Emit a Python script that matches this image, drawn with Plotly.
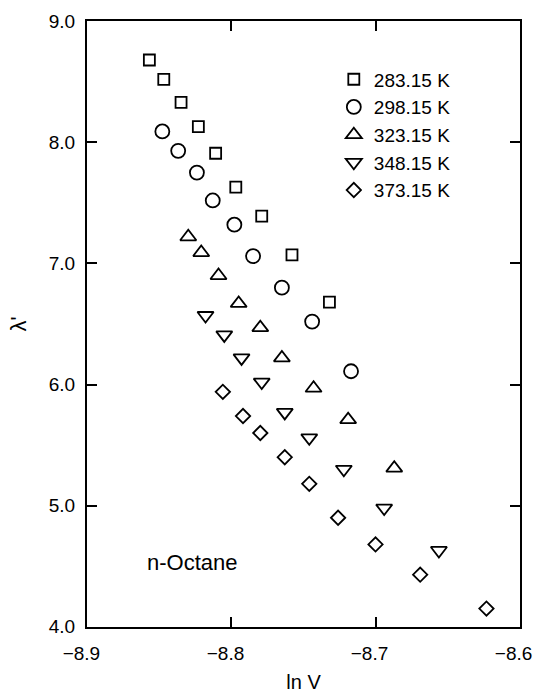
import plotly.graph_objects as go

# ---- data ----
series_names = ["283.15 K", "298.15 K", "323.15 K", "348.15 K", "373.15 K"]

lnV_283 = [-8.857, -8.847, -8.835, -8.823, -8.811, -8.797, -8.779, -8.758, -8.732]
lam_283 = [8.68, 8.52, 8.33, 8.13, 7.91, 7.63, 7.39, 7.07, 6.68]

lnV_298 = [-8.848, -8.837, -8.824, -8.813, -8.798, -8.785, -8.765, -8.744, -8.717]
lam_298 = [8.09, 7.93, 7.75, 7.52, 7.32, 7.06, 6.80, 6.52, 6.11]

lnV_323 = [-8.830, -8.821, -8.809, -8.795, -8.780, -8.765, -8.743, -8.719, -8.687]
lam_323 = [7.22, 7.09, 6.90, 6.67, 6.47, 6.22, 5.97, 5.71, 5.31]

lnV_348 = [-8.818, -8.805, -8.793, -8.779, -8.763, -8.746, -8.722, -8.694, -8.656]
lam_348 = [6.57, 6.41, 6.22, 6.02, 5.77, 5.56, 5.30, 4.98, 4.63]

lnV_373 = [-8.806, -8.792, -8.780, -8.763, -8.746, -8.726, -8.700, -8.669, -8.623]
lam_373 = [5.94, 5.74, 5.60, 5.40, 5.18, 4.90, 4.68, 4.43, 4.15]

x_ticks = [-8.9, -8.8, -8.7, -8.6]
y_ticks = [4.0, 5.0, 6.0, 7.0, 8.0, 9.0]

xs = [lnV_283, lnV_298, lnV_323, lnV_348, lnV_373]
ys = [lam_283, lam_298, lam_323, lam_348, lam_373]
symbols = ["square-open", "circle-open", "triangle-up-open", "triangle-down-open", "diamond-open"]
sizes = [11, 14, 14, 14, 11]

FONT = "Liberation Sans, Arial, sans-serif"

fig = go.Figure()
for name, x, y, sym, sz in zip(series_names, xs, ys, symbols, sizes):
    fig.add_trace(go.Scatter(
        x=x, y=y, mode="markers", name=name,
        marker=dict(symbol=sym, size=sz, color="black", line=dict(width=1.8, color="black")),
    ))

fig.add_annotation(x=-8.827, y=4.53, xref="x", yref="y", text="n-Octane",
                   showarrow=False, font=dict(size=22, color="black", family=FONT))

axis_common = dict(
    showline=True, linecolor="black", linewidth=2, mirror="ticks",
    ticks="inside", ticklen=10, tickwidth=1.5, tickcolor="black",
    showgrid=False, zeroline=False,
    tickfont=dict(size=19, color="black", family=FONT),
    tickformat=".1f",
)

fig.update_xaxes(range=[-8.9003, -8.5997], tickvals=x_ticks, ticklabelstandoff=8,
                 ticklabeloverflow="allow", ticklabelshift=-6,
                 title=dict(text="ln V", font=dict(size=20, color="black", family=FONT), standoff=12),
                 **axis_common)
fig.update_yaxes(range=[3.998, 9.002], tickvals=y_ticks, ticklabelstandoff=6,
                 ticklabeloverflow="allow",
                 title=dict(text="λ'", font=dict(size=22, color="black", family=FONT), standoff=16),
                 **axis_common)

fig.update_layout(
    width=533, height=699,
    margin=dict(l=87, r=13, t=21, b=72, autoexpand=False),
    paper_bgcolor="white", plot_bgcolor="white",
    font=dict(family=FONT, color="black"),
    legend=dict(x=0.57, y=0.935, xanchor="left", yanchor="top",
                font=dict(size=19, color="black", family=FONT),
                bgcolor="rgba(0,0,0,0)", tracegroupgap=0, itemwidth=30),
    showlegend=True,
)

fig.write_html("out.html")
